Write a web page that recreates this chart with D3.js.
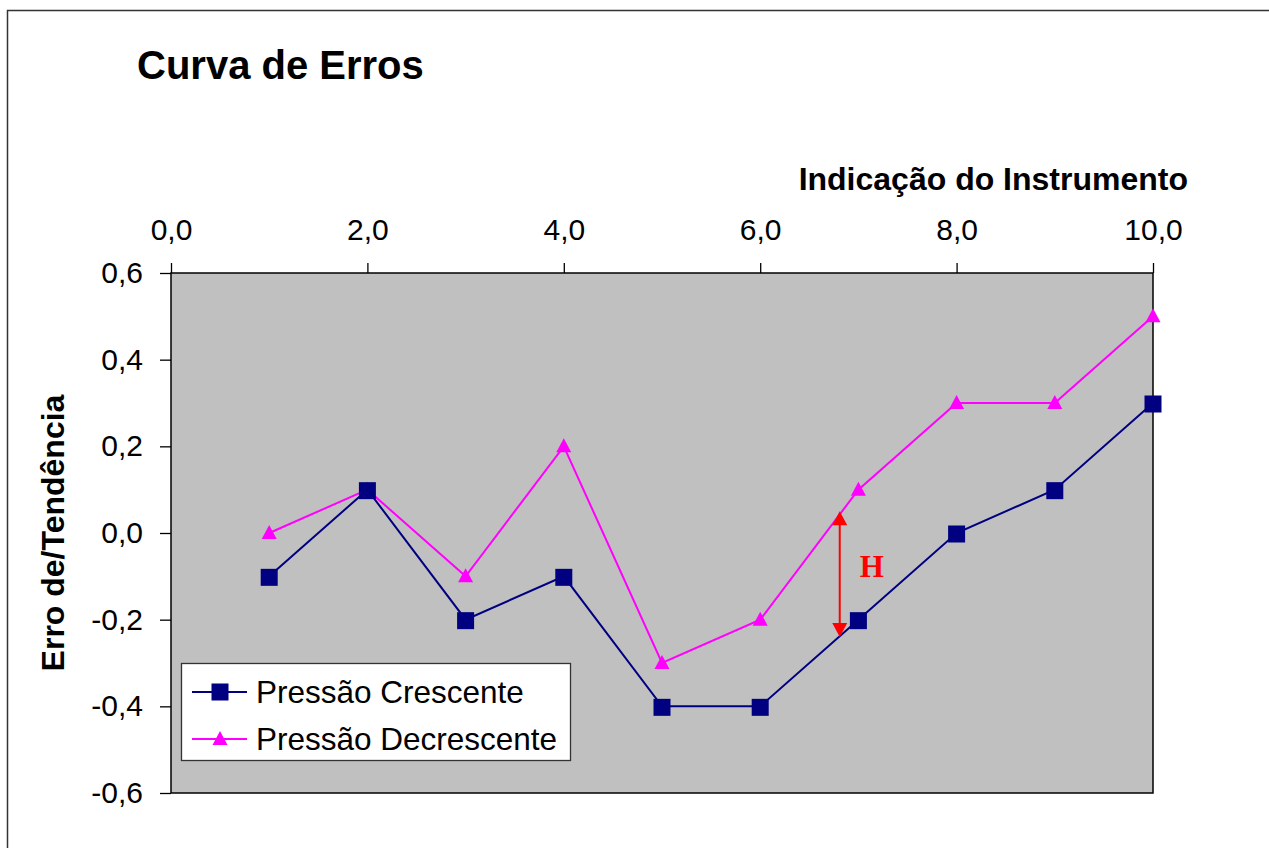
<!DOCTYPE html>
<html>
<head>
<meta charset="utf-8">
<script src="https://cdn.jsdelivr.net/npm/d3@7"></script>
<style>
  body { margin: 0; background: #fff; }
  svg { display: block; font-family: 'Liberation Sans', Arial, sans-serif; }
  .axis text { font-size: 30px; fill: #000; }
  .axis line { stroke: #000; stroke-width: 1.3; }
  .legend text { font-size: 31.5px; fill: #000; }
</style>
</head>
<body>
<script>
const xValues = [1, 2, 3, 4, 5, 6, 7, 8, 9, 10];
const crescente = [-0.1, 0.1, -0.2, -0.1, -0.4, -0.4, -0.2, 0.0, 0.1, 0.3];
const decrescente = [0.0, 0.1, -0.1, 0.2, -0.3, -0.2, 0.1, 0.3, 0.3, 0.5];
const xTicks = [0, 2, 4, 6, 8, 10];
const yTicks = [-0.6, -0.4, -0.2, 0, 0.2, 0.4, 0.6];
const seriesNames = ['Pressão Crescente', 'Pressão Decrescente'];
// histerese annotation (H)
const hArrow = { x: 6.81, top: 0.05, bottom: -0.24, label: 'H' };

const width = 1269, height = 848;
const svg = d3.select('body').append('svg')
  .attr('width', width)
  .attr('height', height);

// outer chart border (cut off at right and bottom)
svg.append('rect')
  .attr('x', 7.5).attr('y', 10.5)
  .attr('width', 1300).attr('height', 900)
  .attr('fill', '#fff')
  .attr('stroke', '#333')
  .attr('stroke-width', 1.5);

const x = d3.scaleLinear().domain([0, 10]).range([171, 1153]);
const y = d3.scaleLinear().domain([-0.6, 0.6]).range([793, 273]);
const fmt = d => d3.format('.1f')(d).replace('.', ',').replace('\u2212', '-');

// plot area
svg.append('rect')
  .attr('x', x(0)).attr('y', y(0.6))
  .attr('width', x(10) - x(0)).attr('height', y(-0.6) - y(0.6))
  .attr('fill', '#c0c0c0')
  .attr('stroke', '#000')
  .attr('stroke-width', 1.5);

// axes
const axisX = svg.append('g')
  .attr('class', 'axis')
  .attr('transform', 'translate(0,' + y(0.6) + ')')
  .call(d3.axisTop(x).tickValues(xTicks).tickSize(10).tickPadding(23).tickFormat(fmt));
axisX.select('.domain').remove();
axisX.selectAll('text').attr('font-family', null);

const axisY = svg.append('g')
  .attr('class', 'axis')
  .attr('transform', 'translate(' + x(0) + ',0)')
  .call(d3.axisLeft(y).tickValues(yTicks).tickSize(11).tickPadding(17).tickFormat(fmt));
axisY.select('.domain').remove();
axisY.selectAll('text').attr('font-family', null);

// titles
svg.append('text')
  .attr('x', 137).attr('y', 79)
  .attr('font-size', 40).attr('font-weight', 'bold')
  .text('Curva de Erros');

svg.append('text')
  .attr('x', 1188).attr('y', 190)
  .attr('text-anchor', 'end')
  .attr('font-size', 32).attr('font-weight', 'bold')
  .text('Indicação do Instrumento');

svg.append('text')
  .attr('transform', 'translate(64,' + y(0) + ') rotate(-90)')
  .attr('text-anchor', 'middle')
  .attr('font-size', 32).attr('font-weight', 'bold')
  .text('Erro de/Tendência');

// series
const line = d3.line()
  .x(d => x(d[0]))
  .y(d => y(d[1]));

const dataC = xValues.map((v, i) => [v, crescente[i]]);
const dataD = xValues.map((v, i) => [v, decrescente[i]]);

svg.append('path').datum(dataD)
  .attr('d', line)
  .attr('fill', 'none')
  .attr('stroke', '#ff00ff')
  .attr('stroke-width', 2);

svg.append('path').datum(dataC)
  .attr('d', line)
  .attr('fill', 'none')
  .attr('stroke', '#000080')
  .attr('stroke-width', 2);

const sq = 17;
const triangle = 'M0,-8L7.5,6L-7.5,6Z';

svg.append('g').selectAll('path')
  .data(dataD)
  .join('path')
  .attr('d', triangle)
  .attr('transform', d => 'translate(' + x(d[0]) + ',' + y(d[1]) + ')')
  .attr('fill', '#ff00ff');

svg.append('g').selectAll('rect')
  .data(dataC)
  .join('rect')
  .attr('x', d => x(d[0]) - sq / 2)
  .attr('y', d => y(d[1]) - sq / 2 + 1)
  .attr('width', sq).attr('height', sq)
  .attr('fill', '#000080');

// H arrow
const ax = x(hArrow.x), ay1 = y(hArrow.top), ay2 = y(hArrow.bottom);
svg.append('line')
  .attr('x1', ax).attr('x2', ax)
  .attr('y1', ay1 + 10).attr('y2', ay2 - 10)
  .attr('stroke', '#ff0000')
  .attr('stroke-width', 2);
svg.append('path')
  .attr('d', 'M' + ax + ',' + ay1 + 'l7.5,14l-15,0Z')
  .attr('fill', '#ff0000');
svg.append('path')
  .attr('d', 'M' + ax + ',' + ay2 + 'l7.5,-14l-15,0Z')
  .attr('fill', '#ff0000');
svg.append('text')
  .attr('x', ax + 32).attr('y', (ay1 + ay2) / 2 + 3)
  .attr('text-anchor', 'middle')
  .attr('font-family', "'Liberation Serif', 'Times New Roman', serif")
  .attr('font-weight', 'bold')
  .attr('font-size', 31)
  .attr('fill', '#ff0000')
  .text(hArrow.label);

// legend
const legend = svg.append('g').attr('class', 'legend');
legend.append('rect')
  .attr('x', 181.5).attr('y', 663.5)
  .attr('width', 389).attr('height', 97)
  .attr('fill', '#fff')
  .attr('stroke', '#333')
  .attr('stroke-width', 1.3);

const rows = [
  { name: seriesNames[0], color: '#000080', shape: 'square', cy: 692 },
  { name: seriesNames[1], color: '#ff00ff', shape: 'triangle', cy: 739 }
];
rows.forEach(r => {
  legend.append('line')
    .attr('x1', 192).attr('x2', 247)
    .attr('y1', r.cy).attr('y2', r.cy)
    .attr('stroke', r.color)
    .attr('stroke-width', 2);
  if (r.shape === 'square') {
    legend.append('rect')
      .attr('x', 220 - sq / 2).attr('y', r.cy - sq / 2)
      .attr('width', sq).attr('height', sq)
      .attr('fill', r.color);
  } else {
    legend.append('path')
      .attr('d', triangle)
      .attr('transform', 'translate(220,' + r.cy + ')')
      .attr('fill', r.color);
  }
  legend.append('text')
    .attr('x', 256).attr('y', r.cy + 11)
    .text(r.name);
});
</script>
</body>
</html>
